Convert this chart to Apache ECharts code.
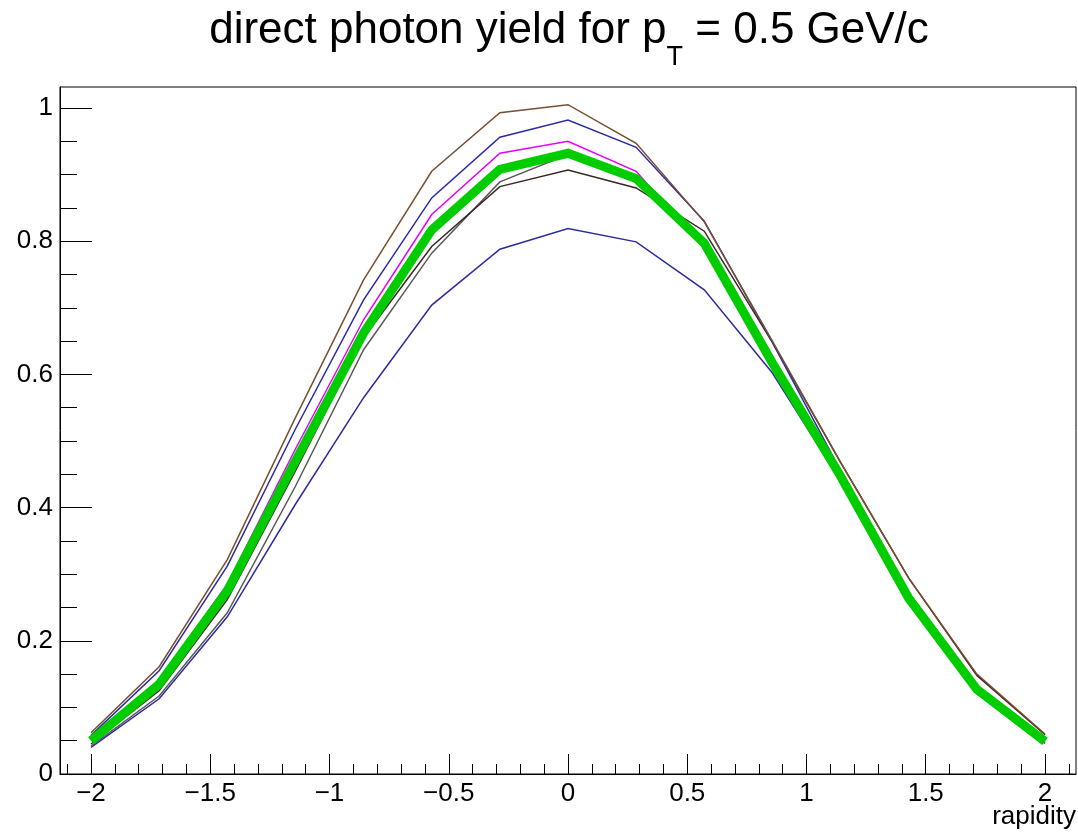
<!DOCTYPE html>
<html>
<head>
<meta charset="utf-8">
<script src="https://cdn.jsdelivr.net/npm/echarts@6/dist/echarts.min.js"></script>
<style>
html,body{margin:0;padding:0;background:#fff;}
#chart{width:1078px;height:834px;}
</style>
</head>
<body>
<div id="chart"></div>
<script>
// rapidity points
const rapidity = [-2, -1.7143, -1.4286, -1.1429, -0.8571, -0.5714, -0.2857, 0, 0.2857, 0.5714, 0.8571, 1.1429, 1.4286, 1.7143, 2];
// yields
const yBrown   = [0.062, 0.161, 0.322, 0.535, 0.742, 0.905, 0.993, 1.005, 0.947, 0.829, 0.650, 0.468, 0.294, 0.150, 0.060];
const yBlue    = [0.058, 0.155, 0.312, 0.518, 0.712, 0.865, 0.956, 0.982, 0.941, 0.830, 0.648, 0.455, 0.272, 0.132, 0.052];
const yMagenta = [0.052, 0.140, 0.285, 0.488, 0.682, 0.840, 0.932, 0.950, 0.905, 0.790, 0.612, 0.440, 0.258, 0.122, 0.047];
const yDark    = [0.045, 0.125, 0.262, 0.455, 0.655, 0.792, 0.882, 0.907, 0.880, 0.815, 0.648, 0.468, 0.294, 0.148, 0.059];
const yGray    = [0.042, 0.117, 0.242, 0.432, 0.637, 0.782, 0.889, 0.930, 0.893, 0.795, 0.615, 0.445, 0.262, 0.126, 0.048];
const yLowBlue = [0.040, 0.113, 0.236, 0.405, 0.565, 0.704, 0.788, 0.819, 0.799, 0.727, 0.602, 0.440, 0.258, 0.121, 0.046];
const yGreen   = [0.050, 0.135, 0.275, 0.470, 0.662, 0.817, 0.908, 0.932, 0.894, 0.797, 0.617, 0.447, 0.264, 0.127, 0.049];

const xMajor = [-2, -1.5, -1, -0.5, 0, 0.5, 1, 1.5, 2];
const xMinor = [-2.1,-1.9,-1.8,-1.7,-1.6,-1.4,-1.3,-1.2,-1.1,-0.9,-0.8,-0.7,-0.6,-0.4,-0.3,-0.2,-0.1,0.1,0.2,0.3,0.4,0.6,0.7,0.8,0.9,1.1,1.2,1.3,1.4,1.6,1.7,1.8,1.9,2.1];
const yMajor = [0, 0.2, 0.4, 0.6, 0.8, 1];
const yMinor = [0.05,0.1,0.15,0.25,0.3,0.35,0.45,0.5,0.55,0.65,0.7,0.75,0.85,0.9,0.95];

const titleMain = 'direct photon yield for p';
const titleSub = 'T';
const titleRest = ' = 0.5 GeV/c';

const FONT = "'Liberation Sans', Arial, sans-serif";
const pts = ys => rapidity.map((x, i) => [x, ys[i]]);

// measure title pieces to lay them out side by side
const ctx = document.createElement('canvas').getContext('2d');
function tw(text, size) { ctx.font = size + 'px ' + FONT; return ctx.measureText(text).width; }
const T_SIZE = 44, S_SIZE = 27;
const w1 = tw(titleMain, T_SIZE), w2 = tw(titleSub, S_SIZE), w3 = tw(titleRest, T_SIZE);
const titleX0 = 569 - (w1 + w2 + w3) / 2;

const chart = echarts.init(document.getElementById('chart'), null, {renderer: 'canvas'});

function lineSeries(ys, color, width) {
  return {
    type: 'line', data: pts(ys), xAxisIndex: 0, yAxisIndex: 0,
    symbol: 'none', smooth: false, animation: false,
    lineStyle: {color: color, width: width, join: 'miter'},
    itemStyle: {color: color}
  };
}

chart.setOption({
  animation: false,
  backgroundColor: '#fff',
  grid: {left: 60, right: 2, top: 87, bottom: 60, show: true, borderColor: '#000', borderWidth: 1, backgroundColor: 'transparent', containLabel: false},
  xAxis: [
    {
      type: 'value', min: -2.13, max: 2.13, position: 'bottom',
      axisLine: {show: true, onZero: false, lineStyle: {color: '#000', width: 1}},
      axisTick: {show: true, inside: true, length: 20, customValues: xMajor, lineStyle: {color: '#000', width: 1}},
      axisLabel: {show: true, customValues: xMajor, margin: 7, fontFamily: FONT, fontSize: 26, color: '#000',
        formatter: v => String(v).replace('-', '\u2212')},
      splitLine: {show: false}
    },
    {
      type: 'value', min: -2.13, max: 2.13, position: 'bottom',
      axisLine: {show: false, onZero: false},
      axisTick: {show: true, inside: true, length: 10, customValues: xMinor, lineStyle: {color: '#000', width: 1}},
      axisLabel: {show: false},
      splitLine: {show: false}
    }
  ],
  yAxis: [
    {
      type: 'value', min: 0, max: 1.0315, position: 'left',
      axisLine: {show: true, onZero: false, lineStyle: {color: '#000', width: 1}},
      axisTick: {show: true, inside: true, length: 32, customValues: yMajor, lineStyle: {color: '#000', width: 1}},
      axisLabel: {show: true, customValues: yMajor, margin: 7, fontFamily: FONT, fontSize: 26, color: '#000'},
      splitLine: {show: false}
    },
    {
      type: 'value', min: 0, max: 1.0315, position: 'left',
      axisLine: {show: false, onZero: false},
      axisTick: {show: true, inside: true, length: 17, customValues: yMinor, lineStyle: {color: '#000', width: 1}},
      axisLabel: {show: false},
      splitLine: {show: false}
    }
  ],
  graphic: [
    {type: 'text', x: titleX0, y: 31, style: {text: titleMain, font: T_SIZE + 'px ' + FONT, fill: '#000', align: 'left', verticalAlign: 'middle'}},
    {type: 'text', x: titleX0 + w1, y: 58, style: {text: titleSub, font: S_SIZE + 'px ' + FONT, fill: '#000', align: 'left', verticalAlign: 'middle'}},
    {type: 'text', x: titleX0 + w1 + w2, y: 31, style: {text: titleRest, font: T_SIZE + 'px ' + FONT, fill: '#000', align: 'left', verticalAlign: 'middle'}},
    {type: 'text', right: 2, top: 804, style: {text: 'rapidity', fontFamily: FONT, fontSize: 26, fill: '#000'}}
  ],
  series: [
    lineSeries(yLowBlue, '#2c2ca0', 1.5),
    lineSeries(yGray, '#5a5a5a', 1.5),
    lineSeries(yDark, '#3c2626', 1.5),
    lineSeries(yMagenta, '#e600ff', 1.5),
    lineSeries(yBlue, '#2c2ca6', 1.5),
    lineSeries(yBrown, '#7a4e30', 1.5),
    lineSeries(yGreen, '#00cc00', 9)
  ]
});
</script>
</body>
</html>
